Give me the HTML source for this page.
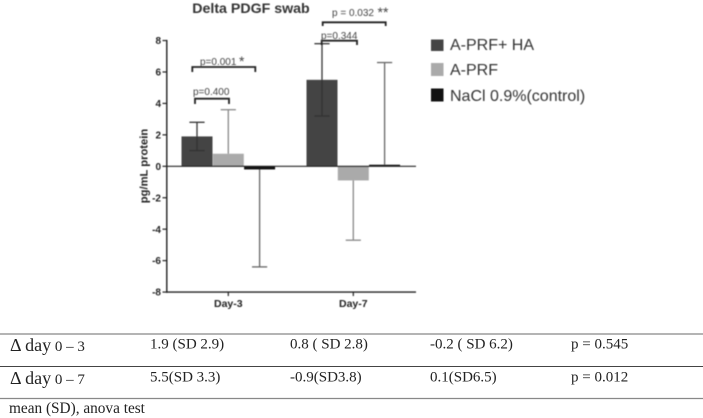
<!DOCTYPE html>
<html>
<head>
<meta charset="utf-8">
<style>
html,body{margin:0;padding:0;background:#fff;width:703px;height:418px;overflow:hidden}
svg{display:block;font-family:"Liberation Sans",sans-serif}
.soft{filter:blur(0.45px)}
.serif{font-family:"Liberation Serif",serif;fill:#222;filter:blur(0.25px)}
</style>
</head>
<body>
<svg id="fig" width="703" height="418" viewBox="0 0 703 418" xmlns="http://www.w3.org/2000/svg">
  <g id="chart" class="soft">
    <text x="251" y="13" text-anchor="middle" font-size="14.2" font-weight="bold" fill="#333">Delta PDGF swab</text>
    <text transform="translate(147.5,166) rotate(-90)" text-anchor="middle" font-size="11.2" font-weight="bold" fill="#222">pg/mL protein</text>
    <g id="marks"></g>
    <g id="axes"></g>
    <g fill="none" stroke="#222" stroke-width="1.8">
      <path d="M195 104V98.7H229V104"/>
      <path d="M192.3 72V67H255.3V72"/>
      <path d="M321.7 45V40.7H357V45"/>
      <path d="M322.7 26V22.3H385.7V26"/>
    </g>
    <g font-size="10" fill="#444">
      <text x="193" y="95">p=0.400</text>
      <text x="200" y="65">p=0.001</text>
      <text x="239" y="66" font-size="14">*</text>
      <text x="321" y="39">p=0.344</text>
      <text x="332" y="16">p = 0.032</text>
      <text x="377.5" y="17" font-size="14">**</text>
    </g>
    <g font-size="16" fill="#333">
      <g>
        <rect x="431" y="39.5" width="12.5" height="11.5" fill="#444"/>
        <text x="450" y="50">A-PRF+ HA</text>
      </g>
      <g>
        <rect x="431" y="63" width="12.5" height="13" fill="#aaa"/>
        <text x="450" y="75">A-PRF</text>
      </g>
      <g>
        <rect x="431" y="88.5" width="12.5" height="13" fill="#111"/>
        <text x="450" y="101">NaCl 0.9%(control)</text>
      </g>
    </g>
  </g>
  <g class="serif" font-size="15">
    <line x1="0" x2="703" y1="334" y2="334" stroke="#888" stroke-width="1.3"/>
    <line x1="0" x2="703" y1="366.5" y2="366.5" stroke="#444" stroke-width="1"/>
    <line x1="0" x2="703" y1="398.5" y2="398.5" stroke="#888" stroke-width="1.3"/>
    <text x="10" y="351"><tspan font-size="18">Δ day</tspan><tspan font-size="15"> 0 – 3</tspan></text>
    <text x="150" y="348.5">1.9 (SD 2.9)</text>
    <text x="290" y="348.5">0.8 ( SD 2.8)</text>
    <text x="430" y="348.5">-0.2 ( SD 6.2)</text>
    <text x="571" y="348.5">p = 0.545</text>
    <text x="10" y="384"><tspan font-size="18">Δ day</tspan><tspan font-size="15"> 0 – 7</tspan></text>
    <text x="150" y="381.5">5.5(SD 3.3)</text>
    <text x="290" y="381.5">-0.9(SD3.8)</text>
    <text x="430" y="381.5">0.1(SD6.5)</text>
    <text x="571" y="381.5">p = 0.012</text>
    <text x="9" y="413" font-size="15.3">mean (SD), anova test</text>
  </g>
</svg>
<script>
var categories = ['Day-3', 'Day-7'];
var seriesNames = ['A-PRF+ HA', 'A-PRF', 'NaCl 0.9%(control)'];
var seriesAMeans = [1.9, 5.5];
var seriesBMeans = [0.8, -0.9];
var seriesCMeans = [-0.2, 0.1];
var seriesAUpper = [2.8, 7.8];
var seriesALower = [1.0, 3.2];
var seriesBUpper = [3.6, null];
var seriesBLower = [null, -4.7];
var seriesCUpper = [null, 6.6];
var seriesCLower = [-6.4, null];
var yTicks = [8, 6, 4, 2, 0, -2, -4, -6, -8];

var SVGNS = 'http://www.w3.org/2000/svg';
var marks = document.getElementById('marks');
var axes = document.getElementById('axes');
var means = [seriesAMeans, seriesBMeans, seriesCMeans];
var uppers = [seriesAUpper, seriesBUpper, seriesCUpper];
var lowers = [seriesALower, seriesBLower, seriesCLower];
var fills = ['#444444', '#aaaaaa', '#111111'];
var whiskers = ['#333333', '#888888', '#666666'];

function yScale(v) { return 166.3 - 15.72 * v; }
function groupCenter(g) { return 228.3 + 125 * g; }
function barCenter(g, s) { return groupCenter(g) + (s - 1) * 31.3; }
function make(parent, tag, attrs) {
  var el = document.createElementNS(SVGNS, tag);
  for (var k in attrs) { el.setAttribute(k, attrs[k]); }
  parent.appendChild(el);
  return el;
}

means.forEach(function (vals, s) {
  vals.forEach(function (v, g) {
    var cx = barCenter(g, s);
    var top = Math.min(yScale(v), yScale(0));
    var h = Math.abs(yScale(v) - yScale(0));
    var bar = make(marks, 'rect', { x: cx - 15.5, y: top, width: 31, height: h, fill: fills[s] });
    
    
    var ends = [uppers[s][g], lowers[s][g]];
    ends.forEach(function (end) {
      if (end === null) { return; }
      var stem = make(marks, 'line', { x1: cx, x2: cx, y1: yScale(v), y2: yScale(end), stroke: whiskers[s], 'stroke-width': 1.3 });
      
      
      var cap = make(marks, 'line', { x1: cx - 7.6, x2: cx + 7.6, y1: yScale(end), y2: yScale(end), stroke: whiskers[s], 'stroke-width': 1.3 });
      
      
    });
  });
});

var yAxis = make(axes, 'line', { x1: 166.8, x2: 166.8, y1: yScale(8) - 0.7, y2: yScale(-8) + 0.7, stroke: '#222', 'stroke-width': 1.4 });


var zeroLine = make(axes, 'line', { x1: 166, x2: 416, y1: yScale(0), y2: yScale(0), stroke: '#222', 'stroke-width': 1.2 });


var xAxis = make(axes, 'line', { x1: 166, x2: 416, y1: yScale(-8), y2: yScale(-8), stroke: '#222', 'stroke-width': 1.4 });



yTicks.forEach(function (t) {
  var tick = make(axes, 'line', { x1: 162.5, x2: 166.5, y1: yScale(t), y2: yScale(t), stroke: '#222', 'stroke-width': 1.2 });
  
  
  var label = make(axes, 'text', { x: 161, y: yScale(t) + 3.6, 'text-anchor': 'end', 'font-size': 10, 'font-weight': 'bold', fill: '#222' });
  
  
  label.textContent = String(t);
});

categories.forEach(function (c, g) {
  var tick = make(axes, 'line', { x1: groupCenter(g), x2: groupCenter(g), y1: yScale(-8), y2: yScale(-8) + 4, stroke: '#222', 'stroke-width': 1.2 });
  
  
  var label = make(axes, 'text', { x: groupCenter(g), y: yScale(-8) + 15, 'text-anchor': 'middle', 'font-size': 10.5, 'font-weight': 'bold', fill: '#222' });
  
  
  label.textContent = c;
});
</script>
</body>
</html>
